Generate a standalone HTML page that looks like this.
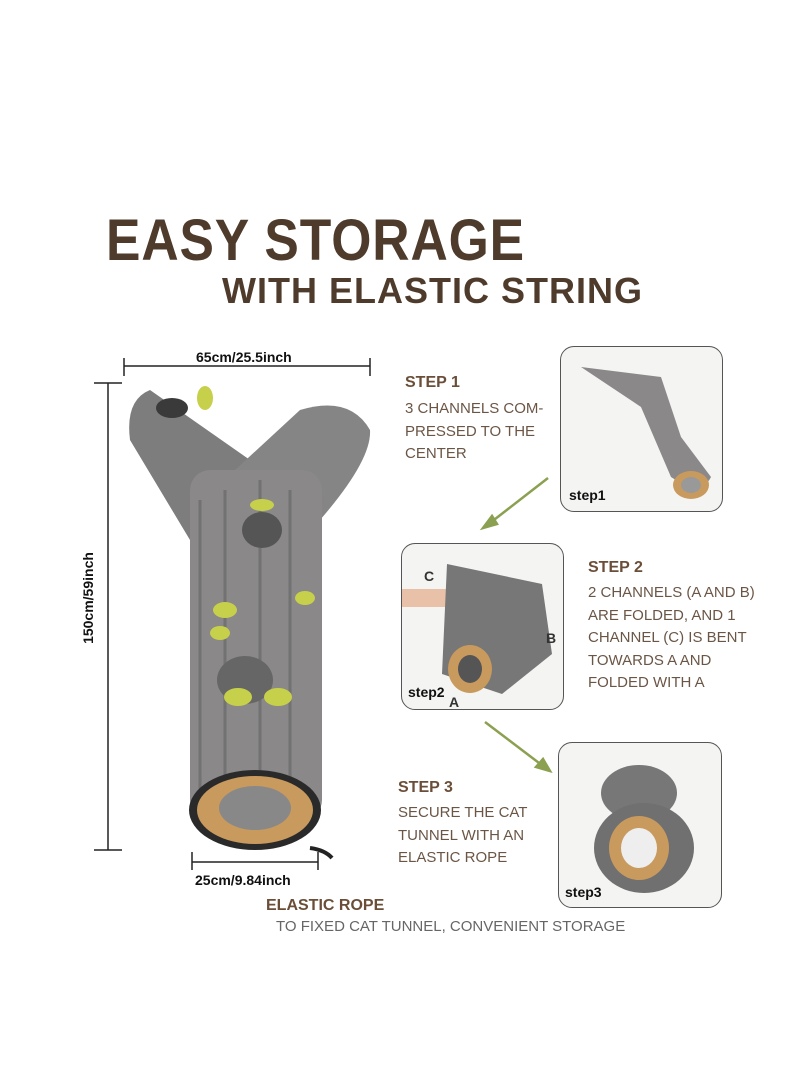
<!DOCTYPE html>
<html><head><meta charset="utf-8"><style>
body{margin:0;width:800px;height:1091px;background:#fff;position:relative;font-family:"Liberation Sans",sans-serif;overflow:hidden}
.t{position:absolute;white-space:nowrap}
.h1{font-weight:900;color:#4e3b2b;font-size:58px;letter-spacing:1px;transform:scaleX(0.89);transform-origin:left top}
.h2{font-weight:900;color:#4e3b2b;font-size:36px;letter-spacing:1px}
.sh{font-weight:bold;color:#6b4e38;font-size:16px}
.sb{color:#6b5646;font-size:15px;line-height:22.5px}
.box{position:absolute;border:1.5px solid #555;border-radius:14px;background:#f4f4f2;overflow:hidden}
.lab{position:absolute;font-weight:bold;font-size:14px;color:#111}
</style></head><body>
<div class="t h1" style="left:106px;top:207px">EASY STORAGE</div>
<div class="t h2" style="left:222px;top:270px">WITH ELASTIC STRING</div>

<svg width="800" height="1091" style="position:absolute;left:0;top:0">
 <g stroke="#222" stroke-width="1.5">
  <line x1="124" y1="366" x2="370" y2="366"/><line x1="124" y1="358" x2="124" y2="376"/><line x1="370" y1="358" x2="370" y2="376"/>
  <line x1="108" y1="383" x2="108" y2="850"/><line x1="94" y1="383" x2="122" y2="383"/><line x1="94" y1="850" x2="122" y2="850"/>
  <line x1="192" y1="862" x2="318" y2="862"/><line x1="192" y1="852" x2="192" y2="870"/><line x1="318" y1="852" x2="318" y2="870"/>
 </g>
 <g>
  <path d="M150 390 Q125 400 130 440 L190 540 L250 520 L250 460 Z" fill="#7d7d7d"/>
  <path d="M235 470 L300 410 Q350 395 370 430 Q372 460 320 520 L260 540 Z" fill="#858585"/>
  <rect x="190" y="470" width="132" height="350" rx="20" fill="#8a8888"/>
  <path d="M200 500 L200 800 M225 490 L225 810 M260 480 L260 815 M290 490 L290 810" stroke="#5e5e5e" stroke-width="3" opacity=".5"/>
  <ellipse cx="172" cy="408" rx="16" ry="10" fill="#3a3a3a"/>
  <ellipse cx="262" cy="530" rx="20" ry="18" fill="#555"/>
  <ellipse cx="245" cy="680" rx="28" ry="24" fill="#666"/>
  <ellipse cx="255" cy="810" rx="66" ry="40" fill="#2a2a2a"/>
  <ellipse cx="255" cy="810" rx="58" ry="34" fill="#c99a5e"/>
  <ellipse cx="255" cy="808" rx="36" ry="22" fill="#888"/>
  <g fill="#c7d04a"><ellipse cx="205" cy="398" rx="8" ry="12"/><ellipse cx="262" cy="505" rx="12" ry="6"/><ellipse cx="225" cy="610" rx="12" ry="8"/><ellipse cx="220" cy="633" rx="10" ry="7"/><ellipse cx="305" cy="598" rx="10" ry="7"/><ellipse cx="238" cy="697" rx="14" ry="9"/><ellipse cx="278" cy="697" rx="14" ry="9"/></g>
  <path d="M310 848 Q325 850 332 858" stroke="#222" stroke-width="4" fill="none"/>
 </g>
 <g stroke="#8ba050" stroke-width="2.5" fill="#8ba050">
  <line x1="548" y1="478" x2="490" y2="523"/><polygon points="483,528 492,516 497,524" />
  <line x1="485" y1="722" x2="543" y2="766"/><polygon points="550,771 536,767 543,759"/>
 </g>
</svg>

<div class="t" style="left:196px;top:349px;font-weight:bold;font-size:14px;color:#111">65cm/25.5inch</div>
<div class="t" style="left:42px;top:590px;font-weight:bold;font-size:14px;color:#111;transform:rotate(-90deg);transform-origin:center">150cm/59inch</div>
<div class="t" style="left:195px;top:872px;font-weight:bold;font-size:14px;color:#111">25cm/9.84inch</div>

<div class="box" style="left:560px;top:346px;width:161px;height:164px">
 <svg width="161" height="164"><path d="M20 20 L80 60 L110 130 Q140 150 150 130 L120 90 L100 30 Z" fill="#8a8888"/><ellipse cx="130" cy="138" rx="18" ry="14" fill="#c99a5e"/><ellipse cx="130" cy="138" rx="10" ry="8" fill="#999"/></svg>
 <div class="lab" style="left:8px;top:140px">step1</div></div>
<div class="box" style="left:401px;top:543px;width:161px;height:165px">
 <svg width="161" height="165"><rect x="0" y="45" width="60" height="18" fill="#e9c0a8"/><path d="M45 20 L140 40 L150 110 L100 150 L40 130 Z" fill="#777"/><ellipse cx="68" cy="125" rx="22" ry="24" fill="#c99a5e"/><ellipse cx="68" cy="125" rx="12" ry="14" fill="#555"/></svg>
 <div class="lab" style="left:22px;top:24px;color:#333">C</div><div class="lab" style="left:144px;top:86px;color:#333">B</div>
 <div class="lab" style="left:6px;top:140px">step2</div><div class="lab" style="left:47px;top:150px;color:#333">A</div></div>
<div class="box" style="left:558px;top:742px;width:162px;height:164px">
 <svg width="162" height="164"><ellipse cx="80" cy="50" rx="38" ry="28" fill="#777"/><ellipse cx="85" cy="105" rx="50" ry="45" fill="#707070"/><ellipse cx="80" cy="105" rx="30" ry="32" fill="#c99a5e"/><ellipse cx="80" cy="105" rx="18" ry="20" fill="#eee"/></svg>
 <div class="lab" style="left:6px;top:141px">step3</div></div>

<div class="t sh" style="left:405px;top:374px">STEP 1</div>
<div class="t sb" style="left:405px;top:398px">3 CHANNELS COM-<br>PRESSED TO THE<br>CENTER</div>
<div class="t sh" style="left:588px;top:559px">STEP 2</div>
<div class="t sb" style="left:588px;top:582px">2 CHANNELS (A AND B)<br>ARE FOLDED, AND 1<br>CHANNEL (C) IS BENT<br>TOWARDS A AND<br>FOLDED WITH A</div>
<div class="t sh" style="left:398px;top:779px">STEP 3</div>
<div class="t sb" style="left:398px;top:802px">SECURE THE CAT<br>TUNNEL WITH AN<br>ELASTIC ROPE</div>
<div class="t sh" style="left:266px;top:897px">ELASTIC ROPE</div>
<div class="t sb" style="left:276px;top:916px;color:#666">TO FIXED CAT TUNNEL, CONVENIENT STORAGE</div>
</body></html>
